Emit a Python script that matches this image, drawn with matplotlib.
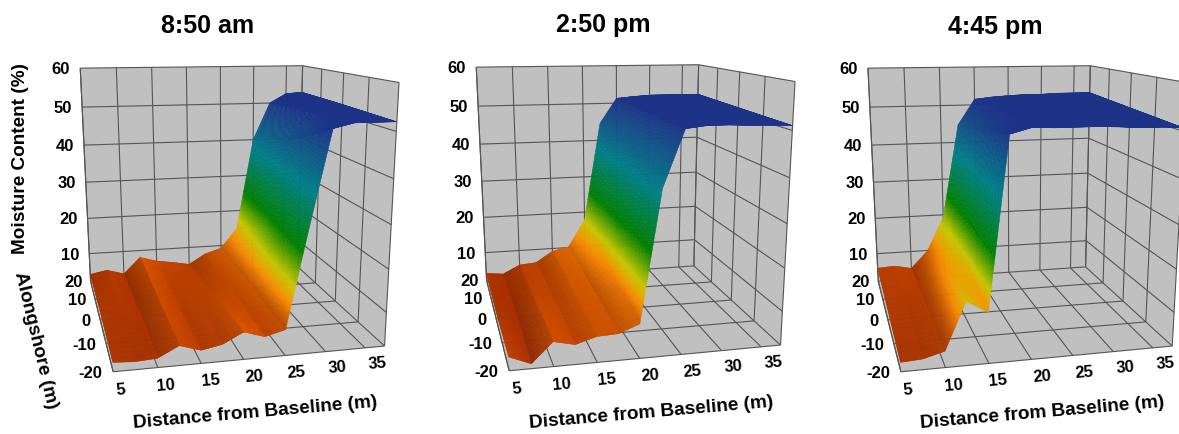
import numpy as np
import matplotlib
matplotlib.use('Agg')
import matplotlib.pyplot as plt
from matplotlib.colors import LinearSegmentedColormap
from mpl_toolkits.mplot3d.art3d import Line3DCollection

plt.rcParams['font.family'] = ['Liberation Sans', 'DejaVu Sans']
plt.rcParams['font.weight'] = 'bold'

# distance from baseline (m), alongshore rows (m)
dist = [5, 7.5, 10, 12.5, 15, 17.5, 20, 22.5, 25, 27.5, 30, 32.5, 35, 37.5]
along = [-20, 0, 20]

titles = ['8:50 am', '2:50 pm', '4:45 pm']
x_ticks = [5, 10, 15, 20, 25, 30, 35]
y_ticks = [-20, -10, 0, 10, 20]
z_ticks = [10, 20, 30, 40, 50, 60]

# moisture content (%) along each alongshore row
am_front = [4.1, 3.8, 4.1, 6.5, 5.0, 5.9, 8.3, 6.8, 8.0, 30, 51, 52, 52, 52]
am_mid = [4.5, 4.5, 4.0, 7.0, 5.5, 6.0, 6.5, 7.5, 9.0, 21, 44, 51, 52.5, 52.5]
am_back = [4.0, 4.9, 3.5, 8.0, 6.6, 5.9, 5.0, 7.8, 9.2, 14.8, 40, 50, 52.5, 52.8]

pm1_front = [5.1, 3.1, 7.6, 6.5, 7.9, 8.1, 9.9, 39, 51, 51.5, 51.5, 51.3, 51.2, 51]
pm1_mid = [4.0, 3.5, 6.5, 6.5, 8.5, 9.0, 13, 41, 51, 51.7, 51.7, 51.7, 51.6, 51.5]
pm1_back = [4.0, 3.5, 5.8, 6.2, 9.2, 10.2, 17.7, 44.6, 51.3, 51.7, 52, 52, 52, 52]

pm2_front = [4.1, 4.4, 5.7, 16.3, 13.6, 50.5, 51.7, 51.5, 51.5, 51.5, 51.3, 51, 51, 50.7]
pm2_mid = [5.0, 5.0, 5.5, 13, 16, 47, 51.6, 51.8, 51.8, 51.8, 51.8, 51.8, 51.7, 51.7]
pm2_back = [5.8, 6.1, 5.1, 9.9, 19.2, 44.7, 51.5, 52, 52.3, 52.5, 52.5, 52.7, 52.7, 52.7]

panels = [(am_front, am_mid, am_back),
          (pm1_front, pm1_mid, pm1_back),
          (pm2_front, pm2_mid, pm2_back)]

z_floor = 2
x_lo, x_hi = dist[0], dist[-1]
y_lo, y_hi = along[0], along[-1]

cmap = LinearSegmentedColormap.from_list('moist', [
    (0.00, '#a02c00'), (0.09, '#c84a00'), (0.20, '#ff8a00'), (0.30, '#c8c800'),
    (0.46, '#008000'), (0.72, '#007f88'), (1.00, '#1c3388')])

# camera: known box corners -> pixel spots inside a 435 px square axes
box_world = np.array([[5, 20, 60], [37.5, 20, 60], [37.5, -20, 60], [37.5, -20, z_floor],
                      [5, -20, z_floor], [37.5, 20, z_floor], [5, 20, z_floor]], float)
box_px = np.array([[240, 88], [910, 80], [1195, 130], [1155, 920],
                   [340, 1000], [892, 685], [272, 725]], float) / 3 + [0, 40]


def fit_camera(world, px):
    rows = []
    for (X, Y, Z), (u, v) in zip(world, px):
        rows.append([X, Y, Z, 1, 0, 0, 0, 0, -u*X, -u*Y, -u*Z, -u])
        rows.append([0, 0, 0, 0, X, Y, Z, 1, -v*X, -v*Y, -v*Z, -v])
    P = np.linalg.svd(np.array(rows))[2][-1].reshape(3, 4)
    if P[2] @ [20, 0, 30, 1] < 0:
        P = -P
    # 3rd row only gives a depth for polygon sorting
    return np.array([P[0], P[1], [0, 0, 0, -1], P[2]])


M = fit_camera(box_world, box_px)


def project(x, y, z):
    p = M @ [x, y, z, 1]
    return p[0]/p[3], p[1]/p[3]


def fine_mesh(front, mid, back, nx=36, ny=12):
    # split the read cells so that the colour runs smoothly over each cell
    zz = np.array([front, mid, back], float)
    xi = np.linspace(0, len(dist)-1, (len(dist)-1)*nx+1)
    yi = np.linspace(0, len(along)-1, (len(along)-1)*ny+1)
    rows = np.array([np.interp(xi, np.arange(len(dist)), r) for r in zz])
    Z = np.array([np.interp(yi, np.arange(len(along)), c) for c in rows.T]).T
    X, Y = np.meshgrid(np.interp(xi, np.arange(len(dist)), dist),
                       np.interp(yi, np.arange(len(along)), along))
    return X, Y, Z


def px(x, y):
    return x/1179, 1-y/435


fig = plt.figure(figsize=(11.79, 4.35), dpi=100)
lefts = [0, 396, 787.7]
tops = [0, -1, 0]
for i in range(3):
    ax = fig.add_axes([lefts[i]/1179, -tops[i]/435, 435/1179, 1], projection='3d',
                      computed_zorder=False)
    ax.patch.set_alpha(0)
    ax.set_axis_off()
    ax.set_xticks([])
    ax.set_yticks([])
    ax.set_zticks([])
    ax.get_proj = lambda: M
    ax.viewLim.intervalx = (0, 435)
    ax.viewLim.intervaly = (435, 0)

    # walls and floor
    wall = '#c0c0c0'
    a, b = np.meshgrid([x_lo, x_hi], [y_lo, y_hi])
    ax.plot_surface(a, b, np.full_like(a, z_floor, dtype=float), color=wall, shade=False, zorder=1)
    a, c = np.meshgrid([x_lo, x_hi], [z_floor, 60])
    ax.plot_surface(a, np.full_like(a, y_hi, dtype=float), c, color=wall, shade=False, zorder=1)
    b, c = np.meshgrid([y_lo, y_hi], [z_floor, 60])
    ax.plot_surface(np.full_like(b, x_hi, dtype=float), b, c, color=wall, shade=False, zorder=1)

    # grid
    segs = []
    for t in x_ticks + [x_hi]:
        segs.append([(t, y_hi, z_floor), (t, y_hi, 60)])
        segs.append([(t, y_lo, z_floor), (t, y_hi, z_floor)])
    segs.append([(x_lo, y_lo, z_floor), (x_lo, y_hi, z_floor)])
    segs.append([(x_lo, y_hi, z_floor), (x_lo, y_hi, 60)])
    for t in y_ticks:
        segs.append([(x_hi, t, z_floor), (x_hi, t, 60)])
        segs.append([(x_lo, t, z_floor), (x_hi, t, z_floor)])
    for t in z_ticks:
        segs.append([(x_lo, y_hi, t), (x_hi, y_hi, t)])
        segs.append([(x_hi, y_lo, t), (x_hi, y_hi, t)])
    grid = Line3DCollection(segs, colors='#555555', linewidths=0.8, zorder=2)
    ax.add_collection3d(grid)

    # surface
    X, Y, Z = fine_mesh(*panels[i])
    rgba = cmap(np.clip((Z-3)/(51-3), 0, 1))
    slope = np.gradient(Z, axis=1)/(X[0, 1]-X[0, 0])
    weight = np.clip((14-Z)/5, 0, 1)
    shade = 1 - weight*np.clip(0.10*slope, -0.08, 0.12)
    rgba[..., :3] = np.clip(rgba[..., :3]*shade[..., None], 0, 1)
    ax.plot_surface(X, Y, Z, facecolors=rgba, rstride=1, cstride=1, shade=False,
                    linewidth=0.3, antialiased=True, zorder=3)

    # tick labels
    for t in x_ticks:
        u, v = project(t+0.74+(t-5)*0.034, y_lo, z_floor-4)
        fig.text(*px(lefts[i]+u, tops[i]+v), str(t), fontsize=12, ha='center', va='center', rotation=5)
    for t in y_ticks:
        u, v = project(x_lo-1.2, t, z_floor)
        fig.text(*px(lefts[i]+u, tops[i]+v), str(t), fontsize=12, ha='right', va='center')
    for t in z_ticks:
        u, v = project(x_lo-1.4, y_hi, t)
        fig.text(*px(lefts[i]+u, tops[i]+v), str(t), fontsize=12, ha='right', va='center')

for (tx, ty), t in zip([(208, 26), (603, 25), (995, 27)], titles):
    fig.text(*px(tx, ty), t, fontsize=18, ha='center', va='center')
for tx in [255, 651, 1042.7]:
    fig.text(*px(tx, 413), 'Distance from Baseline (m)', fontsize=13.7, ha='center', va='center', rotation=5)
fig.text(*px(21, 159), 'Moisture Content (%)', fontsize=13.7, ha='center', va='center', rotation=90)
fig.text(*px(36, 340), 'Alongshore (m)', fontsize=13.7, ha='center', va='center', rotation=-76.5)

fig.savefig('out.png', dpi=100)
